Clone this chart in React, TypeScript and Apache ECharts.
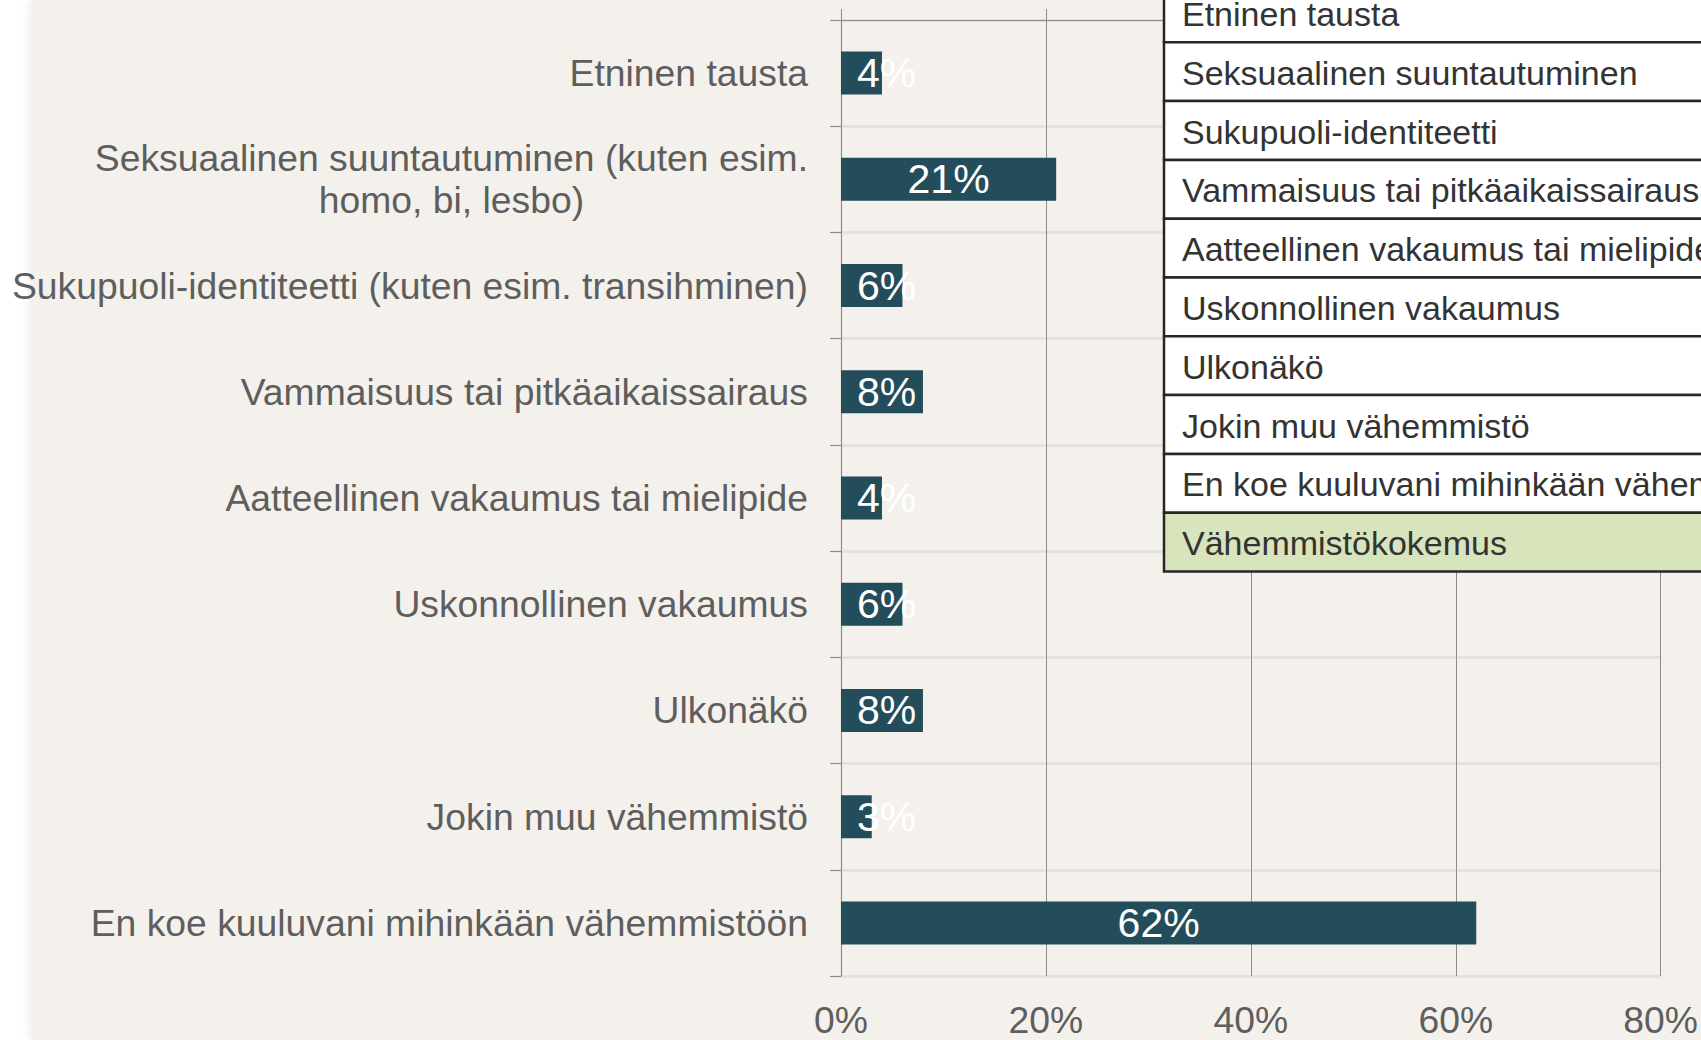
import React, { useEffect, useRef } from "react";
import * as echarts from "echarts";

const categories = [
  "Etninen tausta",
  "Seksuaalinen suuntautuminen (kuten esim.\nhomo, bi, lesbo)",
  "Sukupuoli-identiteetti (kuten esim. transihminen)",
  "Vammaisuus tai pitkäaikaissairaus",
  "Aatteellinen vakaumus tai mielipide",
  "Uskonnollinen vakaumus",
  "Ulkonäkö",
  "Jokin muu vähemmistö",
  "En koe kuuluvani mihinkään vähemmistöön",
];

const values = [4, 21, 6, 8, 4, 6, 8, 3, 62];

const xMin = 0;
const xMax = 80;
const xInterval = 20;

const legendItems = [
  "Etninen tausta",
  "Seksuaalinen suuntautuminen",
  "Sukupuoli-identiteetti",
  "Vammaisuus tai pitkäaikaissairaus",
  "Aatteellinen vakaumus tai mielipide",
  "Uskonnollinen vakaumus",
  "Ulkonäkö",
  "Jokin muu vähemmistö",
  "En koe kuuluvani mihinkään vähemmistöön",
  "Vähemmistökokemus",
];

const FONT = "'Liberation Sans', Arial, sans-serif";
const LABEL_GRAY = "#5e5e5e";
const BAR_COLOR = "#234d5a";

export default function App() {
  const ref = useRef<HTMLDivElement>(null);

  useEffect(() => {
    if (!ref.current) return;
    const chart = echarts.init(ref.current, undefined, { renderer: "svg" });

    const rowH = 58.8;
    const rowTop0 = -16.5;
    const legendX = 1164;
    const legendChildren: any[] = [];
    legendItems.forEach((txt, i) => {
      const top = rowTop0 + rowH * i;
      legendChildren.push({
        type: "rect",
        shape: { x: legendX, y: top, width: 700, height: rowH },
        style: {
          fill: i === legendItems.length - 1 ? "#d7e4bc" : "#ffffff",
          stroke: "#262626",
          lineWidth: 2.5,
        },
        z: 100,
      });
      legendChildren.push({
        type: "text",
        x: legendX + 18,
        y: top + rowH / 2 + 1,
        style: {
          text: txt,
          fontSize: 34,
          fontFamily: FONT,
          fill: "#333333",
          align: "left",
          verticalAlign: "middle",
        },
        z: 101,
      });
    });

    const data = values.map((v) => ({
      value: v,
      label:
        v < 10
          ? { position: "insideLeft", distance: 16 }
          : { position: "inside" },
    }));

    chart.setOption({
      animation: false,
      backgroundColor: "#ffffff",
      grid: { left: 841, right: 39, top: 20, bottom: 64, containLabel: false },
      xAxis: [
        {
          type: "value",
          position: "bottom",
          min: xMin,
          max: xMax,
          interval: xInterval,
          axisLine: { show: false },
          axisTick: { show: false },
          axisLabel: {
            formatter: "{value}%",
            fontSize: 37.3,
            fontFamily: FONT,
            color: LABEL_GRAY,
            margin: 25,
          },
          splitLine: { show: true, lineStyle: { color: "#8c8c8c", width: 1 } },
        },
        {
          type: "value",
          position: "top",
          min: xMin,
          max: xMax,
          interval: xInterval,
          z: 5,
          axisLine: { show: true, lineStyle: { color: "#8c8c8c", width: 1.2 } },
          axisTick: { show: true, length: 11, lineStyle: { color: "#8c8c8c", width: 1 } },
          axisLabel: { show: false },
          splitLine: { show: false },
        },
      ],
      yAxis: {
        type: "category",
        inverse: true,
        data: categories,
        axisLine: { show: true, lineStyle: { color: "#8c8c8c", width: 1.2 } },
        axisTick: { show: true, length: 11, lineStyle: { color: "#8c8c8c", width: 1.2 } },
        splitLine: { show: true, lineStyle: { color: "#e4e2df", width: 3 } },
        axisLabel: {
          interval: 0,
          margin: 33,
          formatter: (v: string) =>
            v
              .split("\n")
              .map((s) => `{c|${s}}`)
              .join("\n"),
          rich: {
            c: {
              align: "center",
              fontSize: 37.3,
              fontFamily: FONT,
              color: LABEL_GRAY,
              lineHeight: 42,
            },
          },
        },
      },
      series: [
        {
          type: "bar",
          data,
          barWidth: 43,
          xAxisIndex: 0,
          itemStyle: { color: BAR_COLOR },
          label: {
            show: true,
            formatter: "{c}%",
            color: "#ffffff",
            fontSize: 41,
            fontFamily: FONT,
          },
          z: 3,
        },
      ],
      graphic: [
        {
          type: "rect",
          z: -10,
          shape: { x: 32, y: 0, width: 1701 - 32, height: 1040 },
          style: {
            fill: "#f4f1ec",
            shadowBlur: 8,
            shadowColor: "rgba(0,0,0,0.08)",
            shadowOffsetX: -2,
          },
        },
        { type: "group", z: 100, children: legendChildren },
      ],
    });

    return () => chart.dispose();
  }, []);

  return (
    <div
      ref={ref}
      style={{ position: "fixed", left: 0, top: 0, width: 1701, height: 1040 }}
    />
  );
}
